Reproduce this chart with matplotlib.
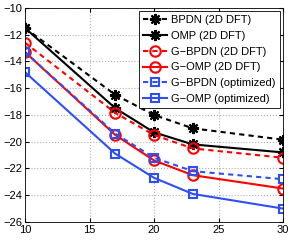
import matplotlib
matplotlib.use("Agg")
import matplotlib.pyplot as plt

plt.rcParams['font.family'] = ['Liberation Sans', 'DejaVu Sans']

x = [10, 17, 20, 23, 30]
bpdn_dft = [-11.5, -16.5, -18.0, -19.0, -19.85]
omp_dft = [-11.5, -17.5, -19.3, -20.2, -20.8]
gbpdn_dft = [-12.6, -17.85, -19.5, -20.5, -21.2]
gomp_dft = [-13.3, -19.5, -21.4, -22.5, -23.5]
gbpdn_opt = [-13.3, -19.4, -21.2, -22.2, -22.8]
gomp_opt = [-14.8, -20.9, -22.7, -23.9, -25.0]

labels = ['BPDN (2D DFT)', 'OMP (2D DFT)', 'G\u2212BPDN (2D DFT)', 'G\u2212OMP (2D DFT)',
          'G\u2212BPDN (optimized)', 'G\u2212OMP (optimized)']
xticks = [10, 15, 20, 25, 30]
yticks = [-26, -24, -22, -20, -18, -16, -14, -12, -10]

fig = plt.figure(figsize=(2.94, 2.40), dpi=100)
ax = fig.add_axes([0.085, 0.075, 0.878, 0.892])

blue = '#2e4ff7'
lw = 1.5
star = (8, 2, 0)
dash = (0, (2.5, 2))
ax.plot(x, bpdn_dft, color='black', ls=dash, lw=lw, marker=star, ms=8, mew=1.5, label=labels[0])
ax.plot(x, omp_dft, color='black', ls='-', lw=lw, marker=star, ms=8, mew=1.5, label=labels[1])
ax.plot(x, gbpdn_dft, color='red', ls=dash, lw=lw, marker='o', ms=7.5, mfc='none', mew=1.5, label=labels[2])
ax.plot(x, gomp_dft, color='red', ls='-', lw=lw, marker='o', ms=7.5, mfc='none', mew=1.5, label=labels[3])
ax.plot(x, gbpdn_opt, color=blue, ls=dash, lw=lw, marker='s', ms=5.5, mfc='none', mew=1.5, label=labels[4])
ax.plot(x, gomp_opt, color=blue, ls='-', lw=lw, marker='s', ms=5.5, mfc='none', mew=1.5, label=labels[5])

ax.set_xlim(10, 30)
ax.set_ylim(-26, -10)
ax.set_xticks(xticks)
ax.set_yticks(yticks)
ax.set_xticklabels([str(v) for v in xticks])
ax.set_yticklabels([str(v).replace('-', '\u2212') for v in yticks])
ax.tick_params(direction='in', labelsize=8, length=3, pad=2, top=True, right=True)
ax.grid(True, ls=':', color='#b0b0b0', lw=0.8)
for s in ax.spines.values():
    s.set_linewidth(0.6)

leg = ax.legend(loc='upper right', fontsize=8, handlelength=2.2, handletextpad=0.4,
                labelspacing=0.52, borderpad=0.35, fancybox=False, framealpha=1,
                edgecolor='black', borderaxespad=0.3)
leg.get_frame().set_linewidth(0.6)

fig.savefig('out.png', dpi=100)
